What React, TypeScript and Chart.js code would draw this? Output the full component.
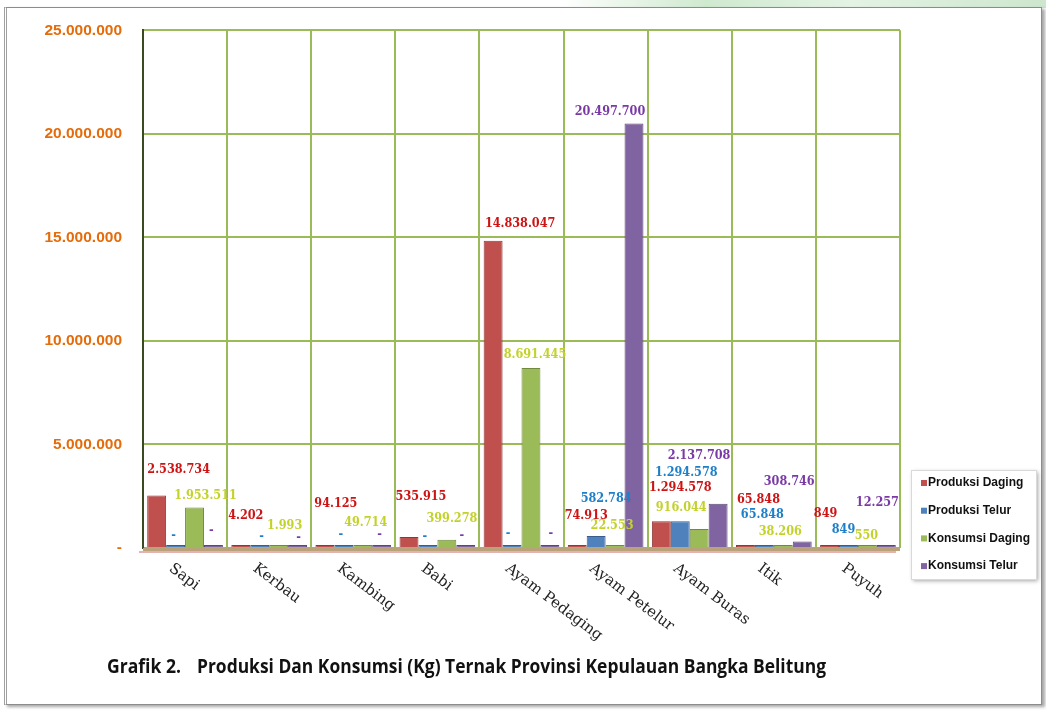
import React, { useEffect, useRef } from "react";
import { Chart, registerables } from "chart.js";

Chart.register(...registerables);

// ---------- data ----------
const categories = ["Sapi", "Kerbau", "Kambing", "Babi", "Ayam Pedaging", "Ayam Petelur", "Ayam Buras", "Itik", "Puyuh"];
const seriesNames = ["Produksi Daging", "Produksi Telur", "Konsumsi Daging", "Konsumsi Telur"];
const produksiDaging = [2538734, 4202, 94125, 535915, 14838047, 74913, 1294578, 65848, 849];
const produksiTelur = [0, 0, 0, 0, 0, 582784, 1294578, 65848, 849];
const konsumsiDaging = [1953511, 1993, 49714, 399278, 8691445, 22553, 916044, 38206, 550];
const konsumsiTelur = [0, 0, 0, 0, 0, 20497700, 2137708, 308746, 12257];
const yMin = 0;
const yMax = 25000000;
const yStep = 5000000;
const titleNumber = "Grafik 2.";
const titleText = "Produksi Dan Konsumsi (Kg) Ternak Provinsi Kepulauan Bangka Belitung";

// ---------- styles ----------
const barColors = ["#C0504D", "#4F81BD", "#9BBB59", "#8064A2"];
const barBorders = ["#8C3836", "#385D8A", "#71893F", "#5C4776"];
const labelColors = ["#CC1414", "#1E7FC9", "#C3D22B", "#7A3AA6"];
// label nudges relative to bar centre / bar top (pixels)
const labelDX = [
  [22, 5, 11, 12, 27, 9, 19, 13, -4],
  [-2, 2, -3, -3, -4, 10, 6, -2, -5],
  [11, 6, 3, 5, 4, -3, -18, -3, -1],
  [-2, 1, -2, -4, 1, -24, -19, -13, -9],
];
const labelDY = [
  [-26, -32, -42, -40, -17, -31, -33, -47, -34],
  [-12, -11, -13, -11, -14, -37, -48, -32, -18],
  [-12, -22, -24, -21, -13, -22, -21, -15, -12],
  [-17, -10, -13, -12, -14, -12, -48, -60, -45],
];

const fmt = (v: number) =>
  v === 0 ? "-" : String(Math.round(v)).replace(/\B(?=(\d{3})+(?!\d))/g, ".");

const decorPlugin = {
  id: "decor",
  beforeDatasetsDraw(chart: any) {
    const { ctx, chartArea } = chart;
    const { left, right, bottom } = chartArea;
    ctx.save();
    // 3D floor strip
    ctx.fillStyle = "#B9A27A";
    ctx.fillRect(left, bottom, right - left, 3);
    ctx.strokeStyle = "#E3B3AF";
    ctx.lineWidth = 2;
    ctx.beginPath();
    ctx.moveTo(left - 4, bottom + 4);
    ctx.lineTo(right - 4, bottom + 4);
    ctx.stroke();
    ctx.restore();
  },
  afterDatasetsDraw(chart: any) {
    const { ctx } = chart;
    const yScale = chart.scales.y;
    ctx.save();
    ctx.font = 'bold 12.5px "DejaVu Serif Condensed", "DejaVu Serif", serif';
    ctx.textAlign = "center";
    ctx.textBaseline = "middle";
    chart.data.datasets.forEach((ds: any, di: number) => {
      const meta = chart.getDatasetMeta(di);
      meta.data.forEach((bar: any, i: number) => {
        const v = ds.data[i] as number;
        const x = bar.x + labelDX[di][i];
        const y = yScale.getPixelForValue(v) + labelDY[di][i];
        ctx.fillStyle = labelColors[di];
        ctx.fillText(fmt(v), x, y);
      });
    });
    ctx.restore();
  },
  afterDraw(chart: any) {
    const { ctx } = chart;
    const xScale = chart.scales.x;
    ctx.save();
    // rotated category labels
    ctx.font = '15px "DejaVu Serif", serif';
    ctx.fillStyle = "#222";
    ctx.textAlign = "left";
    ctx.textBaseline = "top";
    categories.forEach((c, i) => {
      const x = xScale.getPixelForValue(i);
      ctx.save();
      ctx.translate(x - 10, 561);
      ctx.rotate((37 * Math.PI) / 180);
      ctx.fillText(c, 0, 0);
      ctx.restore();
    });

    // legend
    const lx = 911, ly = 470, lw = 125, lh = 109;
    ctx.save();
    ctx.shadowColor = "rgba(0,0,0,0.35)";
    ctx.shadowBlur = 4;
    ctx.shadowOffsetX = 2;
    ctx.shadowOffsetY = 2;
    ctx.fillStyle = "#fff";
    ctx.fillRect(lx, ly, lw, lh);
    ctx.restore();
    ctx.strokeStyle = "#D9D9D9";
    ctx.lineWidth = 1;
    ctx.strokeRect(lx + 0.5, ly + 0.5, lw, lh);
    ctx.font = 'bold 12px "Liberation Sans", Arial, sans-serif';
    ctx.textBaseline = "middle";
    chart.data.datasets.forEach((ds: any, di: number) => {
      const yy = 483 + di * 27.7;
      ctx.fillStyle = barColors[di];
      ctx.fillRect(921, yy - 3, 6, 6);
      ctx.fillStyle = "#111";
      ctx.fillText(ds.label, 928, yy);
    });

    // caption
    ctx.fillStyle = "#111";
    ctx.font = 'bold 19px "Open Sans", sans-serif';
    ctx.textBaseline = "middle";
    ctx.fillText(titleNumber, 107, 668, 74);
    ctx.fillText(titleText, 197, 668, 629);
    ctx.restore();
  },
};

export default function App() {
  const ref = useRef<HTMLCanvasElement | null>(null);

  useEffect(() => {
    if (!ref.current) return;
    const series = [produksiDaging, produksiTelur, konsumsiDaging, konsumsiTelur];
    const chart = new Chart(ref.current, {
      type: "bar",
      data: {
        labels: categories,
        datasets: series.map((d, i) => ({
          label: seriesNames[i],
          data: d,
          backgroundColor: barColors[i],
          borderColor: barBorders[i],
          borderWidth: 1,
          minBarLength: 3,
          categoryPercentage: 0.9,
          barPercentage: 1.0,
        })),
      },
      options: {
        animation: false,
        responsive: false,
        maintainAspectRatio: false,
        layout: { padding: { left: 0, top: 25, right: 146, bottom: 162 } },
        plugins: {
          legend: { display: false },
          tooltip: { enabled: false },
          title: { display: false },
        },
        scales: {
          x: {
            ticks: { display: false },
            grid: { color: "#9BBB59", lineWidth: 2, drawTicks: false, offset: true },
            border: { display: false },
            afterFit: (s: any) => {
              s.height = 0;
            },
          },
          y: {
            min: yMin,
            max: yMax,
            ticks: {
              stepSize: yStep,
              padding: 21,
              color: "#E46C0A",
              font: { family: '"Liberation Sans", Arial, sans-serif', size: 15.5, weight: "bold" },
              callback: (v: any) => fmt(Number(v)),
            },
            grid: { color: "#9BBB59", lineWidth: 2, drawTicks: false },
            border: { display: true, color: "#3B4A22", width: 2 },
            afterFit: (s: any) => {
              s.width = 143;
            },
          },
        },
      },
      plugins: [decorPlugin],
    });
    return () => chart.destroy();
  }, []);

  return (
    <div style={{ position: "absolute", left: 0, top: 0, width: 1046, height: 710, background: "#fff", overflow: "hidden" }}>
      <div
        style={{
          position: "absolute",
          left: 560,
          top: 0,
          width: 486,
          height: 8,
          background: "linear-gradient(to right, rgba(205,232,205,0), #cfe9cf 30%, #e4f3e4 60%, #cde6cd)",
        }}
      />
      <div
        style={{
          position: "absolute",
          left: 4,
          top: 7,
          width: 1034,
          height: 696,
          border: "1px solid #8c8c8c",
          borderLeft: "3px double #a0a0a0",
          boxShadow: "3px 2px 3px rgba(0,0,0,0.35)",
          background: "#fff",
        }}
      />
      <canvas ref={ref} width={1046} height={710} style={{ position: "absolute", left: 0, top: 0 }} />
    </div>
  );
}
